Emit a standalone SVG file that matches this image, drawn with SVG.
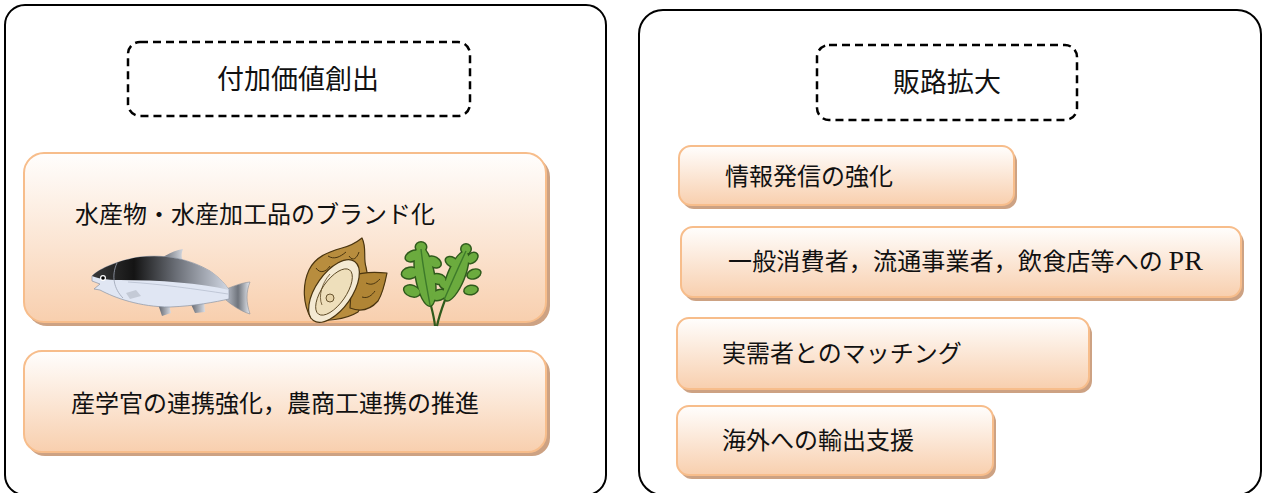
<svg xmlns="http://www.w3.org/2000/svg" width="1264" height="493" viewBox="0 0 1264 493">
  <defs>
    <linearGradient id="peach" x1="0" y1="0" x2="0" y2="1">
      <stop offset="0" stop-color="#fffefd"/>
      <stop offset="1" stop-color="#f8cfae"/>
    </linearGradient>
    <linearGradient id="fishBack" x1="92" y1="0" x2="232" y2="0" gradientUnits="userSpaceOnUse">
      <stop offset="0" stop-color="#3a3a3a"/>
      <stop offset="0.3" stop-color="#141414"/>
      <stop offset="0.6" stop-color="#6a6e76"/>
      <stop offset="1" stop-color="#d8deea"/>
    </linearGradient>
    <linearGradient id="finGrey" x1="0" y1="0" x2="1" y2="0">
      <stop offset="0" stop-color="#5a5e66"/>
      <stop offset="1" stop-color="#d8dce4"/>
    </linearGradient>
    <linearGradient id="tailGrey" x1="0" y1="0" x2="1" y2="0">
      <stop offset="0" stop-color="#b9bec8"/>
      <stop offset="0.5" stop-color="#6f747c"/>
      <stop offset="1" stop-color="#e6e9ef"/>
    </linearGradient>
  </defs>
  <style>
    .panel { fill: #ffffff; stroke: #000000; stroke-width: 2; }
    .title-box { fill: none; stroke: #000000; stroke-width: 2.5; stroke-dasharray: 8 5; }
    .title { font-family: "Noto Sans CJK JP", "Noto Sans", sans-serif; font-size: 27px; fill: #111111; text-anchor: middle; }
    .card { fill: url(#peach); stroke: #f7bd8b; stroke-width: 2; }
    .shadow { fill: #cda283; }
    .label { font-family: "Noto Sans CJK JP", "Noto Sans", sans-serif; font-size: 24px; fill: #111111; }
    .latin { font-family: "Liberation Serif", serif; font-size: 28px; }
    .leaf-edge { fill: #2f5a1c; }
    .leaf-fill { fill: #6bab3e; }
  </style>

  <!-- left panel: value creation -->
  <g id="panel-value">
    <rect class="panel" x="5" y="5" width="601" height="490" rx="20"/>
    <rect class="title-box" x="128" y="42" width="342" height="74" rx="12"/>
    <text class="title" x="298" y="89">付加価値創出</text>
  </g>

  <!-- right panel: market expansion -->
  <g id="panel-market">
    <rect class="panel" x="639" y="10" width="622" height="485" rx="24"/>
    <rect class="title-box" x="817" y="45" width="260" height="75" rx="12"/>
    <text class="title" x="947" y="92">販路拡大</text>
  </g>

  <!-- branding card with illustrations -->
  <g id="card-brand">
    <rect class="shadow" x="27" y="157" width="523" height="169" rx="20"/>
    <rect class="card" x="24" y="153" width="522" height="169" rx="20"/>
    <text class="label" x="75" y="223">水産物・水産加工品のブランド化</text>

    <!-- salmon -->
    <g id="salmon">
      <path d="M226,289 C232,287 240,283 250,282 C246,292 246,302 250,314 C240,311 232,305 226,300 Z" fill="url(#tailGrey)" stroke="#8a909a" stroke-width="0.6"/>
      <path d="M160,259 C168,254 175,250 183,249 C181,254 181,259 184,262 Z" fill="url(#finGrey)"/>
      <path d="M158,304 L162,316 L171,313 L169,304 Z" fill="url(#finGrey)"/>
      <path d="M190,302 L195,313 L205,312 L204,300 Z" fill="url(#finGrey)"/>
      <path d="M92,276 C100,268 120,260 140,257 C165,254 190,259 210,271 C220,278 226,285 229,290 L229,299 C215,302 195,306 170,307 C140,307 115,298 100,290 L94,289 L100,284 L92,281 Z" fill="#e0e6f3" stroke="#8a93a3" stroke-width="0.7"/>
      <path d="M92,276 C100,268 120,260 140,257 C165,254 190,259 210,271 C220,278 226,285 229,290 C200,283 160,280 120,280 C105,280 97,278 92,276 Z" fill="url(#fishBack)"/>
      <path d="M117,263 C111,276 114,289 123,298" fill="none" stroke="#9aa2b2" stroke-width="0.8"/>
      <path d="M128,282 C160,284 195,289 228,294" fill="none" stroke="#aab2c2" stroke-width="0.6"/>
      <path d="M126,293 L136,290 L141,296 L130,299 Z" fill="#c4cad6"/>
      <circle cx="103" cy="278" r="3" fill="#ffffff"/>
      <circle cx="103" cy="278" r="1.8" fill="#000000"/>
    </g>

    <!-- oyster -->
    <g id="oyster" stroke="#4a3510" stroke-linejoin="round">
      <path d="M311,318 C303,305 302,285 309,270 C315,257 328,252 342,248 C350,246 357,242 362,238 C367,248 363,258 366,267 C370,283 366,300 358,312 C345,320 325,322 311,318 Z" fill="#b88d3e" stroke-width="1.2"/>
      <path d="M352,276 C364,271 377,272 387,273 C385,283 383,293 378,301 C370,310 360,312 350,308 Z" fill="#b08535" stroke-width="1.2"/>
      <path d="M328,256 C334,260 340,257 346,252 M316,268 C320,274 326,272 330,266 M349,256 C353,262 357,258 359,252 M366,283 C372,286 376,283 380,279 M362,297 C368,299 372,295 375,291" fill="none" stroke-width="1"/>
      <ellipse cx="334" cy="291" rx="36" ry="18" transform="rotate(-55 334 291)" fill="#f4ead3" stroke-width="1.2"/>
      <ellipse cx="334" cy="292" rx="27" ry="12" transform="rotate(-55 334 292)" fill="#eedfbb" stroke-width="0.8"/>
      <path d="M322,305 C318,296 322,283 330,274" fill="none" stroke-width="0.7"/>
      <circle cx="330" cy="298" r="4" fill="#e6d3a8" stroke-width="0.8"/>
    </g>

    <!-- seaweed -->
    <g id="seaweed">
      <path d="M435,326 C434,316 432,310 430,302 M437,326 C439,316 442,308 445,300" fill="none" stroke="#2f5a1c" stroke-width="2.2"/>
      <g class="leaf-edge">
        <ellipse cx="425" cy="276" rx="10.5" ry="31.5" transform="rotate(-10 425 276)"/>
        <ellipse cx="412" cy="291" rx="9.5" ry="6.5" transform="rotate(20 412 291)"/>
        <ellipse cx="410" cy="273" rx="9.5" ry="6.5" transform="rotate(-10 410 273)"/>
        <ellipse cx="413" cy="256" rx="9" ry="6" transform="rotate(-25 413 256)"/>
        <ellipse cx="439" cy="295" rx="9" ry="6" transform="rotate(-20 439 295)"/>
        <ellipse cx="438" cy="279" rx="9" ry="6" transform="rotate(10 438 279)"/>
        <ellipse cx="434" cy="262" rx="8.5" ry="6" transform="rotate(30 434 262)"/>
        <ellipse cx="421" cy="247" rx="6.5" ry="6"/>
        <ellipse cx="456" cy="276" rx="9.5" ry="27.5" transform="rotate(22 456 276)"/>
        <ellipse cx="471" cy="290" rx="8" ry="5.5" transform="rotate(-10 471 290)"/>
        <ellipse cx="474" cy="274" rx="8" ry="5.5" transform="rotate(-20 474 274)"/>
        <ellipse cx="472" cy="258" rx="7.5" ry="5.5" transform="rotate(-40 472 258)"/>
        <ellipse cx="466" cy="249" rx="6" ry="6"/>
        <ellipse cx="446" cy="285" rx="8" ry="5.5" transform="rotate(20 446 285)"/>
        <ellipse cx="452" cy="262" rx="8" ry="5.5" transform="rotate(30 452 262)"/>
      </g>
      <g class="leaf-fill">
        <ellipse cx="425" cy="276" rx="9" ry="30" transform="rotate(-10 425 276)"/>
        <ellipse cx="412" cy="291" rx="8" ry="5" transform="rotate(20 412 291)"/>
        <ellipse cx="410" cy="273" rx="8" ry="5" transform="rotate(-10 410 273)"/>
        <ellipse cx="413" cy="256" rx="7.5" ry="4.5" transform="rotate(-25 413 256)"/>
        <ellipse cx="439" cy="295" rx="7.5" ry="4.5" transform="rotate(-20 439 295)"/>
        <ellipse cx="438" cy="279" rx="7.5" ry="4.5" transform="rotate(10 438 279)"/>
        <ellipse cx="434" cy="262" rx="7" ry="4.5" transform="rotate(30 434 262)"/>
        <ellipse cx="421" cy="247" rx="5" ry="4.5"/>
        <ellipse cx="456" cy="276" rx="8" ry="26" transform="rotate(22 456 276)"/>
        <ellipse cx="471" cy="290" rx="6.5" ry="4" transform="rotate(-10 471 290)"/>
        <ellipse cx="474" cy="274" rx="6.5" ry="4" transform="rotate(-20 474 274)"/>
        <ellipse cx="472" cy="258" rx="6" ry="4" transform="rotate(-40 472 258)"/>
        <ellipse cx="466" cy="249" rx="4.5" ry="4.5"/>
        <ellipse cx="446" cy="285" rx="6.5" ry="4" transform="rotate(20 446 285)"/>
        <ellipse cx="452" cy="262" rx="6.5" ry="4" transform="rotate(30 452 262)"/>
      </g>
      <path d="M430,305 C427,288 423,268 421,249 M444,300 C451,284 459,266 466,251" fill="none" stroke="#3d7a2a" stroke-width="1.4"/>
    </g>
  </g>

  <!-- collaboration card -->
  <g id="card-collab">
    <rect class="shadow" x="27" y="355" width="523" height="101" rx="18"/>
    <rect class="card" x="24" y="351" width="522" height="101" rx="18"/>
    <text class="label" x="71" y="412">産学官の連携強化，農商工連携の推進</text>
  </g>

  <!-- market expansion cards -->
  <g id="card-info">
    <rect class="shadow" x="682" y="150" width="335" height="59" rx="12"/>
    <rect class="card" x="679" y="146" width="335" height="59" rx="12"/>
    <text class="label" x="725" y="185">情報発信の強化</text>
  </g>

  <g id="card-pr">
    <rect class="shadow" x="684" y="231" width="560" height="70" rx="12"/>
    <rect class="card" x="681" y="227" width="560" height="70" rx="12"/>
    <text class="label" x="728" y="270" textLength="475">一般消費者，流通事業者，飲食店等への <tspan class="latin">PR</tspan></text>
  </g>

  <g id="card-matching">
    <rect class="shadow" x="680" y="322" width="412" height="71" rx="12"/>
    <rect class="card" x="677" y="318" width="412" height="71" rx="12"/>
    <text class="label" x="722" y="362">実需者とのマッチング</text>
  </g>

  <g id="card-export">
    <rect class="shadow" x="680" y="410" width="316" height="69" rx="12"/>
    <rect class="card" x="677" y="406" width="316" height="69" rx="12"/>
    <text class="label" x="722" y="449">海外への輸出支援</text>
  </g>
</svg>
